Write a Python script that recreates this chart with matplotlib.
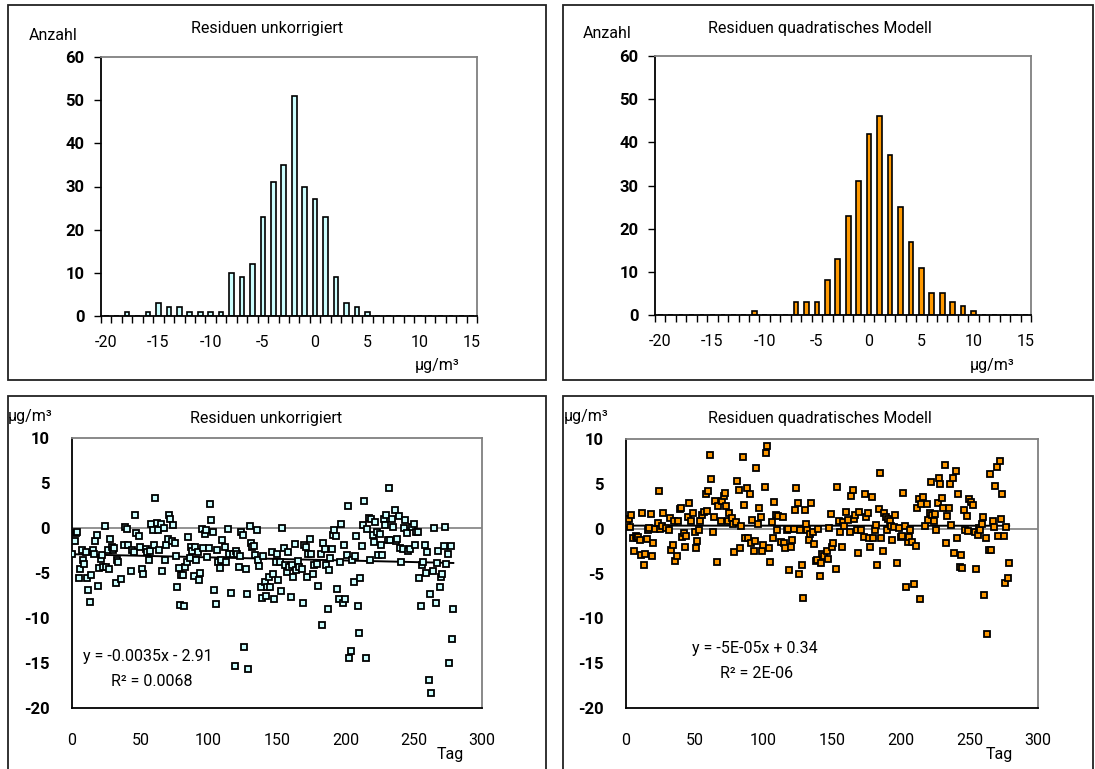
import numpy as np
import matplotlib
matplotlib.use('Agg')
import matplotlib.pyplot as plt
from matplotlib.patches import Rectangle

plt.rcParams['font.family'] = ['Roboto', 'DejaVu Sans']
plt.rcParams['axes.unicode_minus'] = False

# histogram data: residual class (ug/m3) and counts
klassen = list(range(-20, 16))
anzahl_unkorr = [0, 0, 1, 0, 1, 3, 2, 2, 1, 1, 1, 1, 10, 9, 12, 23, 31, 35, 51, 30,
                 27, 23, 9, 3, 2, 1, 0, 0, 0, 0, 0, 0, 0, 0, 0, 0]
anzahl_quad = [0, 0, 0, 0, 0, 0, 0, 0, 0, 1, 0, 0, 0, 3, 3, 3, 8, 13, 23, 31,
               42, 46, 37, 25, 17, 11, 5, 5, 3, 2, 1, 0, 0, 0, 0, 0]

# residuals per day, uncorrected
tag_unkorr = [0, 2, 3, 4, 5, 6, 7, 8, 9, 10, 11, 12, 13, 14, 15, 16, 17, 18, 19, 20,
              21, 22, 23, 24, 25, 26, 27, 28, 29, 30, 31, 32, 33, 34, 36, 38, 39, 40, 41, 43,
              44, 45, 46, 47, 49, 50, 51, 52, 54, 55, 56, 57, 58, 59, 60, 61, 62, 63, 64, 65,
              66, 67, 68, 69, 70, 71, 72, 73, 74, 75, 76, 77, 78, 79, 80, 81, 82, 83, 84, 85,
              86, 87, 88, 89, 90, 91, 92, 93, 94, 95, 96, 97, 98, 99, 100, 101, 102, 103, 104, 105,
              106, 107, 108, 109, 110, 112, 113, 114, 115, 116, 118, 119, 120, 121, 122, 123, 124, 125, 126, 127,
              128, 129, 130, 131, 132, 133, 134, 135, 136, 137, 138, 139, 140, 141, 142, 143, 144, 145, 146, 147,
              148, 149, 150, 151, 152, 153, 154, 155, 156, 157, 158, 159, 160, 161, 162, 163, 164, 165, 166, 168,
              169, 170, 171, 172, 173, 174, 175, 176, 177, 179, 180, 182, 183, 184, 185, 186, 187, 188, 189, 190,
              191, 192, 193, 194, 195, 196, 197, 198, 199, 200, 201, 202, 203, 204, 205, 206, 207, 208, 209, 210,
              211, 212, 213, 214, 215, 216, 217, 218, 219, 220, 221, 222, 223, 224, 225, 226, 227, 228, 229, 230,
              231, 232, 233, 234, 235, 236, 237, 238, 239, 240, 241, 242, 243, 244, 245, 246, 247, 249, 250, 251,
              252, 253, 254, 255, 256, 257, 258, 259, 260, 261, 262, 263, 264, 265, 266, 267, 268, 269, 270, 271,
              272, 273, 274, 275, 276, 277, 278, 279]
res_unkorr = [-2.85, -1.4, -0.5, -0.4, -5.6, -4.6, -2.4, -3.6, -4.0, -2.7, -5.5, -6.9, -8.2, -5.2, -2.4, -2.85, -1.4, -0.8, -6.4, -4.4,
              -3.4, -3.0, -4.3, 0.2, -4.3, -2.4, -4.6, -1.2, -2.1, -2.4, -2.2, -6.1, -3.5, -3.8, -5.7, -1.85, 0.1, -0.15, -1.85, -4.8,
              -2.4, -2.7, 1.4, -0.5, -0.9, -2.1, -4.6, -5.1, -2.3, -2.7, -3.5, -2.55, 0.5, -0.25, -1.9, 3.3, 0.55, -0.25, -2.4, 0.5,
              -4.8, 0.0, -3.6, -1.9, -1.2, 1.4, 1.05, -1.45, 0.3, -1.65, -3.15, -6.55, -4.45, -8.5, -5.25, -5.25, -8.7, -4.3, -3.8, -1.0,
              -3.3, -2.1, -2.6, -5.3, -2.1, -3.5, -2.7, -5.75, -5.0, -0.15, -2.2, -0.7, -0.25, -3.2, -2.2, 2.7, 0.85, -0.4, -6.9, -8.4,
              -2.4, -3.8, -4.45, -3.6, -1.3, -2.1, -3.8, -0.15, -2.85, -7.2, -2.9, -15.3, -2.5, -2.85, -4.3, -3.1, -0.45, -0.8, -13.2, -4.6,
              -7.3, -15.7, 0.2, -1.65, -2.1, -2.0, -3.0, -0.25, -3.5, -4.2, -6.55, -7.8, -3.15, -6.0, -7.5, -6.55, -5.45, -6.5, -2.7, -5.15,
              -7.9, -3.8, -2.85, -5.75, -3.8, -6.95, 0.0, -2.2, -4.15, -4.9, -2.7, -4.35, -7.7, -4.15, -5.45, -1.8, -4.7, -3.7, -4.35, -4.5,
              -8.35, -1.85, -2.1, -5.4, -2.85, -1.25, -2.9, -5.1, -4.15, -3.95, -6.45, -2.85, -10.8, -1.65, -2.3, -4.15, -9.05, -4.7, -3.3, -2.3,
              -0.8, -0.25, -0.9, -6.75, -7.85, -3.8, 0.5, -8.35, -1.85, -7.9, -3.0, 2.4, -14.4, -13.7, -3.5, -6.0, -3.15, -0.9, -8.7, -11.7,
              -5.5, -2.0, 0.3, 3.0, -14.4, -0.1, 1.15, -3.6, 1.05, -0.8, -1.55, 0.65, -0.45, -3.0, -0.7, -1.9, -3.0, 0.95, 0.3, 1.5,
              -1.3, 4.5, -1.35, 0.95, 0.1, 1.95, -1.45, -1.2, 1.3, -2.2, -3.8, -2.3, 0.0, 0.9, -0.6, -2.5, -2.3, 0.1, 0.5, -1.85,
              -0.45, -0.45, -5.5, -8.7, -4.15, -3.8, -1.9, -5.0, -2.7, -16.9, -7.3, -18.35, -4.8, 0.0, -8.35, -3.85, -2.5, -6.55, -5.45, -5.1,
              -2.0, 0.1, -3.95, -2.9, -15.0, -2.05, -12.3, -8.95]

# residuals per day, quadratic model
tag_quad = [1, 2, 3, 4, 5, 6, 7, 8, 9, 10, 11, 12, 13, 14, 15, 16, 17, 18, 19, 20,
            21, 23, 24, 25, 26, 27, 29, 31, 32, 33, 34, 35, 36, 37, 38, 39, 40, 41, 42, 43,
            44, 45, 46, 47, 49, 50, 51, 52, 53, 54, 55, 57, 58, 59, 60, 61, 62, 63, 64, 65,
            66, 67, 69, 70, 71, 72, 73, 74, 75, 77, 78, 79, 80, 81, 82, 83, 84, 85, 86, 87,
            88, 89, 90, 91, 92, 93, 94, 95, 96, 97, 98, 99, 100, 101, 102, 103, 104, 105, 106, 107,
            108, 109, 110, 111, 113, 114, 115, 116, 117, 118, 119, 120, 121, 122, 123, 124, 125, 126, 127, 128,
            129, 130, 131, 132, 133, 134, 135, 136, 137, 138, 139, 140, 141, 142, 143, 144, 146, 147, 148, 149,
            150, 151, 153, 154, 155, 156, 157, 158, 159, 160, 162, 163, 164, 165, 166, 167, 168, 169, 170, 171,
            173, 174, 175, 176, 177, 178, 179, 180, 181, 182, 183, 184, 185, 186, 187, 188, 189, 190, 191, 192,
            193, 194, 195, 196, 197, 199, 200, 201, 202, 203, 204, 205, 206, 207, 208, 210, 211, 212, 213, 214,
            215, 216, 218, 219, 220, 221, 222, 223, 224, 225, 226, 227, 228, 229, 230, 231, 232, 233, 234, 235,
            236, 237, 238, 239, 240, 241, 242, 243, 244, 245, 246, 247, 248, 249, 250, 251, 253, 254, 255, 256,
            257, 258, 259, 260, 261, 262, 263, 264, 265, 266, 267, 268, 269, 270, 271, 272, 273, 274, 275, 276,
            277, 278, 279]
res_quad = [0.5, 1.1, 0.2, 1.5, -1.05, -2.45, -0.8, -1.05, -0.9, -1.25, -2.9, 1.8, -4.05, -2.8, -1.15, -0.2, 0.1, 1.6, -3.1, -1.65,
            0.0, 0.6, 4.15, 0.0, 0.35, 1.75, 0.1, -0.2, 1.15, -2.35, -1.8, 0.9, -3.65, -3.1, 0.8, 2.2, 2.35, -0.95, -0.5, -2.1,
            -0.8, 1.25, 2.9, 0.8, 1.7, -0.4, -2.15, -1.35, -0.1, 0.8, 1.5, 1.9, 3.9, 2.0, 4.25, 8.25, 5.5, -0.4, 1.25, 3.1,
            -3.75, 2.55, 0.9, 3.1, 3.65, 3.95, 2.55, 0.9, 1.8, 1.15, 0.5, -2.65, 0.7, 5.35, 4.3, -2.15, 0.35, 8.0, 2.65, -1.05,
            4.5, -1.05, 3.9, -1.6, 0.95, -2.5, -1.4, 6.8, 0.5, 2.35, 1.35, -2.45, -1.8, 4.65, 8.4, 9.25, -2.15, -3.75, 0.7, -1.05,
            3.0, 1.5, -0.15, 1.45, -1.5, 1.25, -1.65, -2.2, -0.2, 0.0, -4.65, -2.1, -1.25, 0.0, 2.1, 4.5, 2.85, -5.1, -0.2, -4.0,
            -7.7, 2.1, 0.5, -0.1, -1.25, -0.6, 2.85, -0.4, -1.7, -3.65, -3.5, 0.0, -5.25, -3.85, -2.8, -3.0, -2.5, -3.35, 0.1, 1.65,
            -2.0, -1.65, -4.5, 4.7, 0.9, -0.4, -2.0, 0.7, 0.35, 1.9, 0.95, -0.4, 3.65, 4.35, 1.1, 1.55, -0.1, -2.75, 1.9, -0.2,
            -0.9, 3.85, 1.25, 1.8, -1.05, -2.1, 3.55, -1.05, -0.2, 0.45, -4.1, 2.2, 6.25, -1.05, -2.45, 1.7, 1.35, -0.2, 1.1, 0.8,
            0.35, -1.25, 0.15, 1.55, -3.8, 0.05, -0.95, -0.8, 3.95, 0.35, -6.45, -1.5, -0.95, -0.2, -1.5, -6.15, -1.95, 2.35, 3.3, -7.8,
            2.8, 3.5, 0.35, 2.75, 0.95, 1.7, 5.25, 1.5, 0.8, 1.65, -0.2, 2.85, 5.6, 4.95, 3.4, 2.35, 7.1, -1.65, 1.45, 2.3,
            4.95, 0.45, 5.65, -2.75, 6.4, -1.05, 3.85, -4.25, -2.9, -4.4, 2.1, -0.2, 1.45, -0.3, 3.3, 3.0, 2.65, -0.4, -4.55, -0.7,
            0.05, -0.1, 0.5, 1.35, -7.45, -1.05, -11.7, -2.35, 6.15, -2.35, 0.8, 0.15, 4.8, 6.9, -0.8, 7.5, 1.1, 3.85, -0.8, -6.05,
            0.15, -5.5, -3.85]

# linear trend as printed in the charts
trend_unkorr = (-0.0035, -2.91)
trend_quad = (-5e-05, 0.34)

W, H = 1095, 769
fig = plt.figure(figsize=(W / 100, H / 100), dpi=100)


def px_box(x0, y0, x1, y1):
    return [x0 / W, 1 - y1 / H, (x1 - x0) / W, (y1 - y0) / H]


def px_text(x, y, s, **kw):
    fig.text(x / W, 1 - y / H, s, **kw)


# panel frames
for (x0, y0, x1, y1) in [(8, 5, 546, 380), (563, 5, 1093, 380), (8, 396, 546, 770), (563, 396, 1093, 770)]:
    fig.patches.append(Rectangle((x0 / W, 1 - y1 / H), (x1 - x0) / W, (y1 - y0) / H,
                                 transform=fig.transFigure, fill=False, ec='#222222', lw=1.3))


def style_axes(ax):
    ax.spines['left'].set_color('black')
    ax.spines['bottom'].set_color('black')
    ax.spines['top'].set_color('#808080')
    ax.spines['right'].set_color('#808080')
    for s in ax.spines.values():
        s.set_linewidth(1.3)
    for lab in ax.get_yticklabels():
        lab.set_fontweight('bold')


def histogram(box, counts, color):
    ax = fig.add_axes(px_box(*box))
    ax.bar(klassen, counts, width=0.45, color=color, edgecolor='black', linewidth=1.2)
    ax.set_xlim(-20.5, 15.5)
    ax.set_ylim(0, 60)
    ax.set_xticks(range(-20, 16, 5))
    ax.set_xticks(np.arange(-20.5, 16, 1), minor=True)
    ax.tick_params(axis='x', which='major', length=0, pad=14, labelsize=11.5)
    ax.tick_params(axis='x', which='minor', length=5, width=1, direction='out')
    ax.set_yticks(range(0, 61, 10))
    ax.tick_params(axis='y', length=5, width=1, direction='out', pad=7, labelsize=12)
    style_axes(ax)
    return ax


def scatter(box, tag, res, color, trend):
    ax = fig.add_axes(px_box(*box))
    ax.axhline(0, color='#808080', lw=1.2, zorder=1)
    ax.plot(tag, res, 's', ms=5, mfc=color, mec='black', mew=1.3, zorder=3)
    xt = np.array([min(tag), max(tag)])
    ax.plot(xt, trend[0] * xt + trend[1], color='black', lw=1.4, zorder=2)
    ax.set_xlim(0, 300)
    ax.set_ylim(-20, 10)
    ax.set_xticks(range(0, 301, 50))
    ax.set_yticks(range(-20, 11, 5))
    ax.tick_params(axis='x', length=0, pad=18, labelsize=11.5)
    ax.tick_params(axis='y', length=0, pad=16, labelsize=12)
    style_axes(ax)
    return ax


histogram((101, 57, 477, 316), anzahl_unkorr, '#ccffff')
histogram((655, 56, 1031, 315), anzahl_quad, '#ff9900')
scatter((72, 438, 482, 708), tag_unkorr, res_unkorr, '#ccffff', trend_unkorr)
scatter((626, 439, 1038, 708), tag_quad, res_quad, '#ff9900', trend_quad)

# titles and labels
px_text(267, 28, 'Residuen unkorrigiert', ha='center', va='center', fontsize=11.5)
px_text(820, 28, 'Residuen quadratisches Modell', ha='center', va='center', fontsize=11.5)
px_text(266, 419, 'Residuen unkorrigiert', ha='center', va='center', fontsize=11.5)
px_text(820, 419, 'Residuen quadratisches Modell', ha='center', va='center', fontsize=11.5)

px_text(53, 35, 'Anzahl', ha='center', va='center', fontsize=11.5)
px_text(607, 34, 'Anzahl', ha='center', va='center', fontsize=11.5)
px_text(437, 365, 'µg/m³', ha='center', va='center', fontsize=11.5)
px_text(992, 365, 'µg/m³', ha='center', va='center', fontsize=11.5)
px_text(30, 417, 'µg/m³', ha='center', va='center', fontsize=11.5)
px_text(586, 417, 'µg/m³', ha='center', va='center', fontsize=11.5)
px_text(450, 755, 'Tag', ha='center', va='center', fontsize=11.5)
px_text(999, 755, 'Tag', ha='center', va='center', fontsize=11.5)

px_text(83, 657, 'y = -0.0035x - 2.91', ha='left', va='center', fontsize=11.5)
px_text(111, 682, 'R² = 0.0068', ha='left', va='center', fontsize=11.5)
px_text(692, 649, 'y = -5E-05x + 0.34', ha='left', va='center', fontsize=11.5)
px_text(720, 674, 'R² = 2E-06', ha='left', va='center', fontsize=11.5)

fig.savefig('out.png', dpi=100)
